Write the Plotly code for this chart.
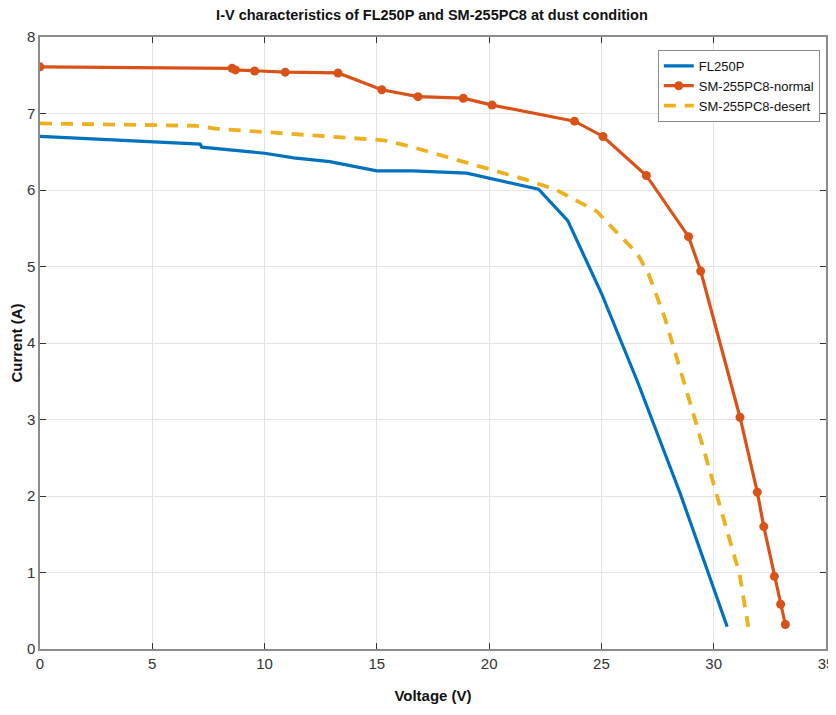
import plotly.graph_objects as go

# FL250P
fl_v = [0, 7.13, 7.2, 10.0, 11.3, 12.9, 15.0, 16.6, 19.0, 20.5, 22.2, 23.5, 25.0, 26.6, 28.5, 29.75, 30.6]
fl_i = [6.70, 6.60, 6.56, 6.48, 6.42, 6.37, 6.25, 6.25, 6.22, 6.12, 6.01, 5.60, 4.65, 3.50, 2.04, 1.00, 0.29]

# SM-255PC8-normal
sn_v = [0, 8.55, 8.7, 9.56, 10.92, 13.27, 15.22, 16.83, 18.85, 20.13, 23.8, 25.07, 27.0, 28.88, 29.42,
        31.17, 31.94, 32.23, 32.70, 32.98, 33.19]
sn_i = [7.61, 7.59, 7.57, 7.555, 7.54, 7.53, 7.31, 7.22, 7.20, 7.11, 6.90, 6.70, 6.19, 5.39, 4.94,
        3.03, 2.05, 1.60, 0.95, 0.585, 0.32]

# SM-255PC8-desert
sd_v = [0, 6.9, 7.9, 10.5, 13.3, 15.3, 16.6, 18.1, 19.7, 21.7, 23.0, 24.8, 25.6, 26.6, 27.1, 27.8,
        29.1, 30.0, 31.15, 31.54]
sd_i = [6.87, 6.84, 6.80, 6.75, 6.69, 6.65, 6.56, 6.43, 6.30, 6.13, 6.00, 5.72, 5.47, 5.17, 4.90, 4.35,
        3.07, 2.16, 0.98, 0.29]

x_ticks = [0, 5, 10, 15, 20, 25, 30, 35]
y_ticks = [0, 1, 2, 3, 4, 5, 6, 7, 8]

FONT = "Liberation Sans, Arial, sans-serif"

fig = go.Figure()
fig.add_trace(go.Scatter(x=fl_v, y=fl_i, mode="lines", name="FL250P",
                         line=dict(color="#0072BD", width=3.2)))
fig.add_trace(go.Scatter(x=sn_v, y=sn_i, mode="lines+markers", name="SM-255PC8-normal",
                         line=dict(color="#D95319", width=3.2),
                         marker=dict(color="#D95319", size=9, symbol="circle")))
fig.add_trace(go.Scatter(x=sd_v, y=sd_i, mode="lines", name="SM-255PC8-desert",
                         line=dict(color="#EDB120", width=3.8, dash="12px,9px")))

axis_common = dict(
    showgrid=True, gridcolor="#e3e3e3", gridwidth=1,
    showline=True, linecolor="#8c8c8c", linewidth=1.5, mirror="ticks",
    ticks="inside", ticklen=6, tickcolor="#333333", tickwidth=1,
    zeroline=False, automargin=False,
    tickfont=dict(family=FONT, size=15, color="#333333"),
)

fig.update_layout(
    width=828, height=707,
    margin=dict(l=32, r=10, t=29, b=66),
    paper_bgcolor="white", plot_bgcolor="white",
    title=dict(text="<b>I-V characteristics of FL250P and SM-255PC8 at dust condition</b>",
               x=0.512, xanchor="center", y=0.998, yanchor="top",
               font=dict(family=FONT, size=14.5, color="#111111")),
    xaxis=dict(range=[0, 35], tickvals=x_ticks, ticktext=[str(v) for v in x_ticks],
               title=dict(text="<b>Voltage (V)</b>", standoff=20,
                          font=dict(family=FONT, size=15, color="#111111")),
               **axis_common),
    yaxis=dict(range=[0, 8], tickvals=y_ticks, ticktext=[str(v) for v in y_ticks],
               title=dict(text="<b>Current (A)</b>", standoff=1,
                          font=dict(family=FONT, size=15, color="#111111")),
               **axis_common),
    legend=dict(x=0.786, y=0.979, xanchor="left", yanchor="top",
                bgcolor="white", bordercolor="#8c8c8c", borderwidth=1,
                font=dict(family=FONT, size=13, color="#111111"),
                tracegroupgap=3, itemwidth=30),
    showlegend=True,
)

fig.write_html("out.html")
